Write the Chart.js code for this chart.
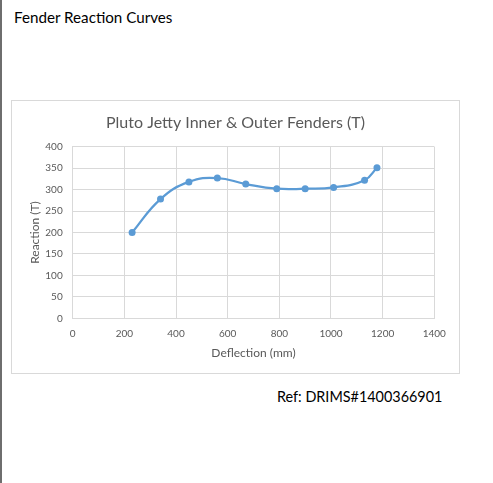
<!DOCTYPE html>
<html>
<head>
<meta charset="utf-8">
<script src="https://cdn.jsdelivr.net/npm/chart.js@4/dist/chart.umd.min.js"></script>
<style>
  html, body { margin: 0; padding: 0; background: #fff; }
  body { width: 493px; height: 483px; position: relative; overflow: hidden; font-family: Lato, "Open Sans", sans-serif; }
  #leftline { position: absolute; left: 0; top: 0; width: 2px; height: 483px; background: #6e6e6e; }
  #head { position: absolute; left: 14px; top: 8px; font-size: 15.2px; color: #000; white-space: nowrap; }
  #box { position: absolute; left: 11px; top: 100px; width: 447px; height: 272px; border: 1px solid #d9d9d9; }
  #ref { position: absolute; left: 277px; top: 388px; font-size: 14.4px; color: #000; white-space: nowrap; }
  canvas { display: block; }
</style>
</head>
<body>
<div id="leftline"></div>
<div id="head">Fender Reaction Curves</div>
<div id="box"><canvas id="c" width="447" height="272"></canvas></div>
<div id="ref">Ref: DRIMS#1400366901</div>
<script>
const deflection = [230, 340, 450, 560, 670, 790, 900, 1010, 1130, 1178];
const reaction   = [200, 278, 318, 327, 313, 302, 302, 305, 322, 351];
const xTicks = [0, 200, 400, 600, 800, 1000, 1200, 1400];
const yTicks = [0, 50, 100, 150, 200, 250, 300, 350, 400];

const chartTitle = 'Pluto Jetty Inner & Outer Fenders (T)';
const xTitle = 'Deflection (mm)';
const yTitle = 'Reaction (T)';

const blue = '#5b9bd5';
const grey = '#595959';
const grid = '#d9d9d9';

const points = deflection.map((d, i) => ({ x: d, y: reaction[i] }));

new Chart(document.getElementById('c'), {
  type: 'scatter',
  data: {
    datasets: [{
      data: points,
      showLine: true,
      borderColor: blue,
      backgroundColor: blue,
      borderWidth: 2.25,
      pointRadius: 3.5,
      pointBorderWidth: 0,
      tension: 0.45
    }]
  },
  options: {
    responsive: false,
    animation: false,
    layout: { padding: 0 },
    plugins: {
      legend: { display: false },
      tooltip: { enabled: false },
      title: {
        display: true,
        text: chartTitle,
        color: grey,
        font: { family: 'Lato', size: 16, weight: 'normal' },
        padding: { top: 12.5, bottom: 14 }
      }
    },
    scales: {
      x: {
        type: 'linear',
        min: 0, max: 1400,
        afterBuildTicks: s => { s.ticks = xTicks.map(v => ({ value: v })); },
        afterFit: s => { s.height = 54.7; },
        grid: { color: grid, drawTicks: false },
        border: { color: grid },
        ticks: { color: grey, font: { family: 'Lato', size: 10 }, padding: 9, maxRotation: 0, callback: v => String(v) },
        title: { display: true, text: xTitle, color: grey, font: { family: 'Lato', size: 12 }, padding: { top: 4, bottom: 13 } }
      },
      y: {
        type: 'linear',
        min: 0, max: 400,
        afterBuildTicks: s => { s.ticks = yTicks.map(v => ({ value: v })); },
        afterFit: s => { s.width = 60.7; },
        grid: { color: grid, drawTicks: false },
        border: { color: grid },
        ticks: { color: grey, font: { family: 'Lato', size: 10 }, padding: 10, callback: v => String(v) },
        title: { display: true, text: yTitle, color: grey, font: { family: 'Lato', size: 12 }, padding: { top: 16, bottom: 0 } }
      },
      yRight: {
        type: 'linear',
        position: 'right',
        min: 0, max: 400,
        afterFit: s => { s.width = 24.7; },
        grid: { display: false, drawTicks: false },
        border: { display: false },
        ticks: { display: false }
      }
    }
  }
});
</script>
</body>
</html>
